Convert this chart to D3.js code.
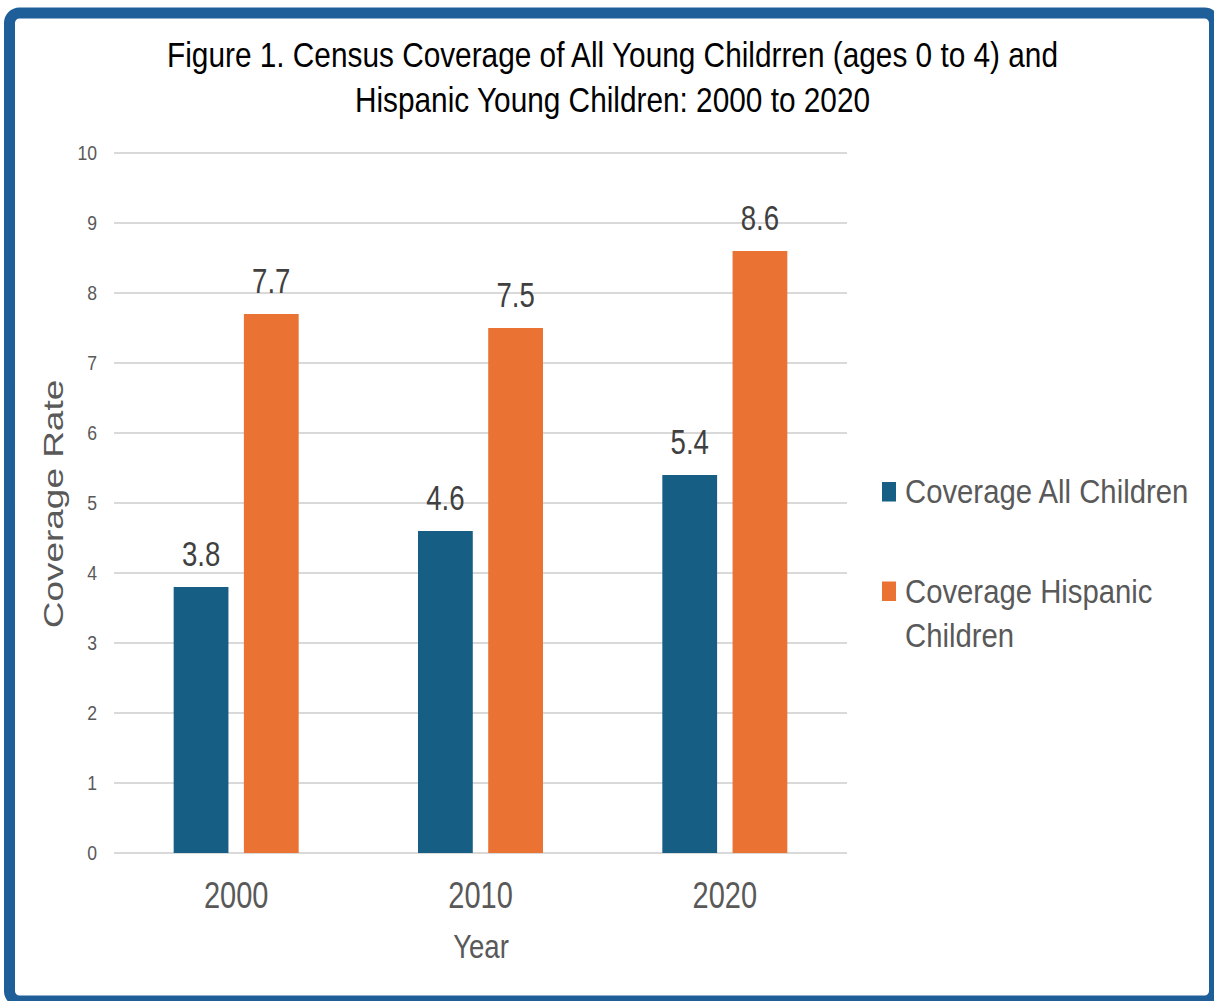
<!DOCTYPE html>
<html>
<head>
<meta charset="utf-8">
<script src="https://cdn.jsdelivr.net/npm/d3@7"></script>
<style>
  html, body { margin: 0; padding: 0; background: #ffffff; }
  svg { display: block; }
  text { font-family: "Liberation Sans", Arial, sans-serif; }
</style>
</head>
<body>
<svg id="chart" width="1214" height="1001"></svg>
<script>
// Census coverage rates by year
const years = ["2000", "2010", "2020"];
const seriesNames = ["Coverage All Children", "Coverage Hispanic Children"];
const allChildren = [3.8, 4.6, 5.4];
const hispanicChildren = [7.7, 7.5, 8.6];
const yTicks = [0, 1, 2, 3, 4, 5, 6, 7, 8, 9, 10];
const titleLines = [
  "Figure 1. Census Coverage of All Young Childrren (ages 0 to 4) and",
  "Hispanic Young Children: 2000 to 2020"
];
const legendLines = [["Coverage All Children"], ["Coverage Hispanic", "Children"]];

const colors = ["#165E83", "#EA7233"];
const seriesValues = [allChildren, hispanicChildren];

const svg = d3.select("#chart");

// Blue frame around the chart area
svg.append("rect")
  .attr("x", 9.5).attr("y", 13).attr("width", 1205).attr("height", 988)
  .attr("rx", 10)
  .attr("fill", "#ffffff")
  .attr("stroke", "#1F5F99")
  .attr("stroke-width", 11);

// Text drawn with a vertical stretch factor k
function label(parent, x, y, str, size, k, anchor, color) {
  return parent.append("text")
    .attr("transform", `translate(${x},${y}) scale(1,${k})`)
    .attr("text-anchor", anchor)
    .attr("font-size", size)
    .attr("fill", color)
    .text(str);
}

const plot = { left: 114, right: 847, top: 153, bottom: 853 };

const y = d3.scaleLinear().domain([0, 10]).range([plot.bottom, plot.top]);
const x0 = d3.scaleBand().domain(years).range([plot.left, plot.right])
  .paddingInner(0.4884).paddingOuter(0.2442);
const x1 = d3.scaleBand().domain(seriesNames).range([0, x0.bandwidth()])
  .paddingInner(0.22);

// Gridlines
svg.append("g").selectAll("line").data(yTicks).join("line")
  .attr("x1", plot.left).attr("x2", plot.right)
  .attr("y1", d => y(d)).attr("y2", d => y(d))
  .attr("stroke", "#d9d9d9").attr("stroke-width", 2);

// Y tick labels
const yLab = svg.append("g");
yTicks.forEach(t => label(yLab, 97, y(t) + 7, String(t), 17.6, 1.18, "end", "#595959"));

// Bars and value labels
const barData = [];
years.forEach((yr, i) => seriesNames.forEach((s, j) => barData.push({ yr, s, j, v: seriesValues[j][i] })));

svg.append("g").selectAll("rect").data(barData).join("rect")
  .attr("x", d => x0(d.yr) + x1(d.s))
  .attr("y", d => y(d.v))
  .attr("width", x1.bandwidth())
  .attr("height", d => y(0) - y(d.v))
  .attr("fill", d => colors[d.j]);

const vLab = svg.append("g");
barData.forEach(d => label(vLab, x0(d.yr) + x1(d.s) + x1.bandwidth() / 2, y(d.v) - 21,
  d.v.toFixed(1), 27.6, 1.3, "middle", "#404040"));

// X axis labels
const xLab = svg.append("g");
years.forEach(yr => label(xLab, x0(yr) + x0.bandwidth() / 2, 908, yr, 29, 1.28, "middle", "#595959"));

// Axis titles
label(svg, 481, 958, "Year", 27.6, 1.23, "middle", "#595959");
svg.append("text")
  .attr("transform", "translate(63,504) scale(1,1.32) rotate(-90)")
  .attr("text-anchor", "middle").attr("font-size", 28).attr("fill", "#595959")
  .text("Coverage Rate");

// Title
titleLines.forEach((t, i) => label(svg, 612.5, 67 + i * 44.5, t, 29.8, 1.2, "middle", "#000000"));

// Legend
const legend = svg.append("g");
const legendTop = [482, 581.5];
legendLines.forEach((lines, i) => {
  legend.append("rect")
    .attr("x", 882).attr("y", legendTop[i]).attr("width", 14).attr("height", 19.5)
    .attr("fill", colors[i]);
  lines.forEach((ln, k) => label(legend, 905, legendTop[i] + 21 + k * 44, ln, 29.3, 1.13, "start", "#595959"));
});
</script>
</body>
</html>
